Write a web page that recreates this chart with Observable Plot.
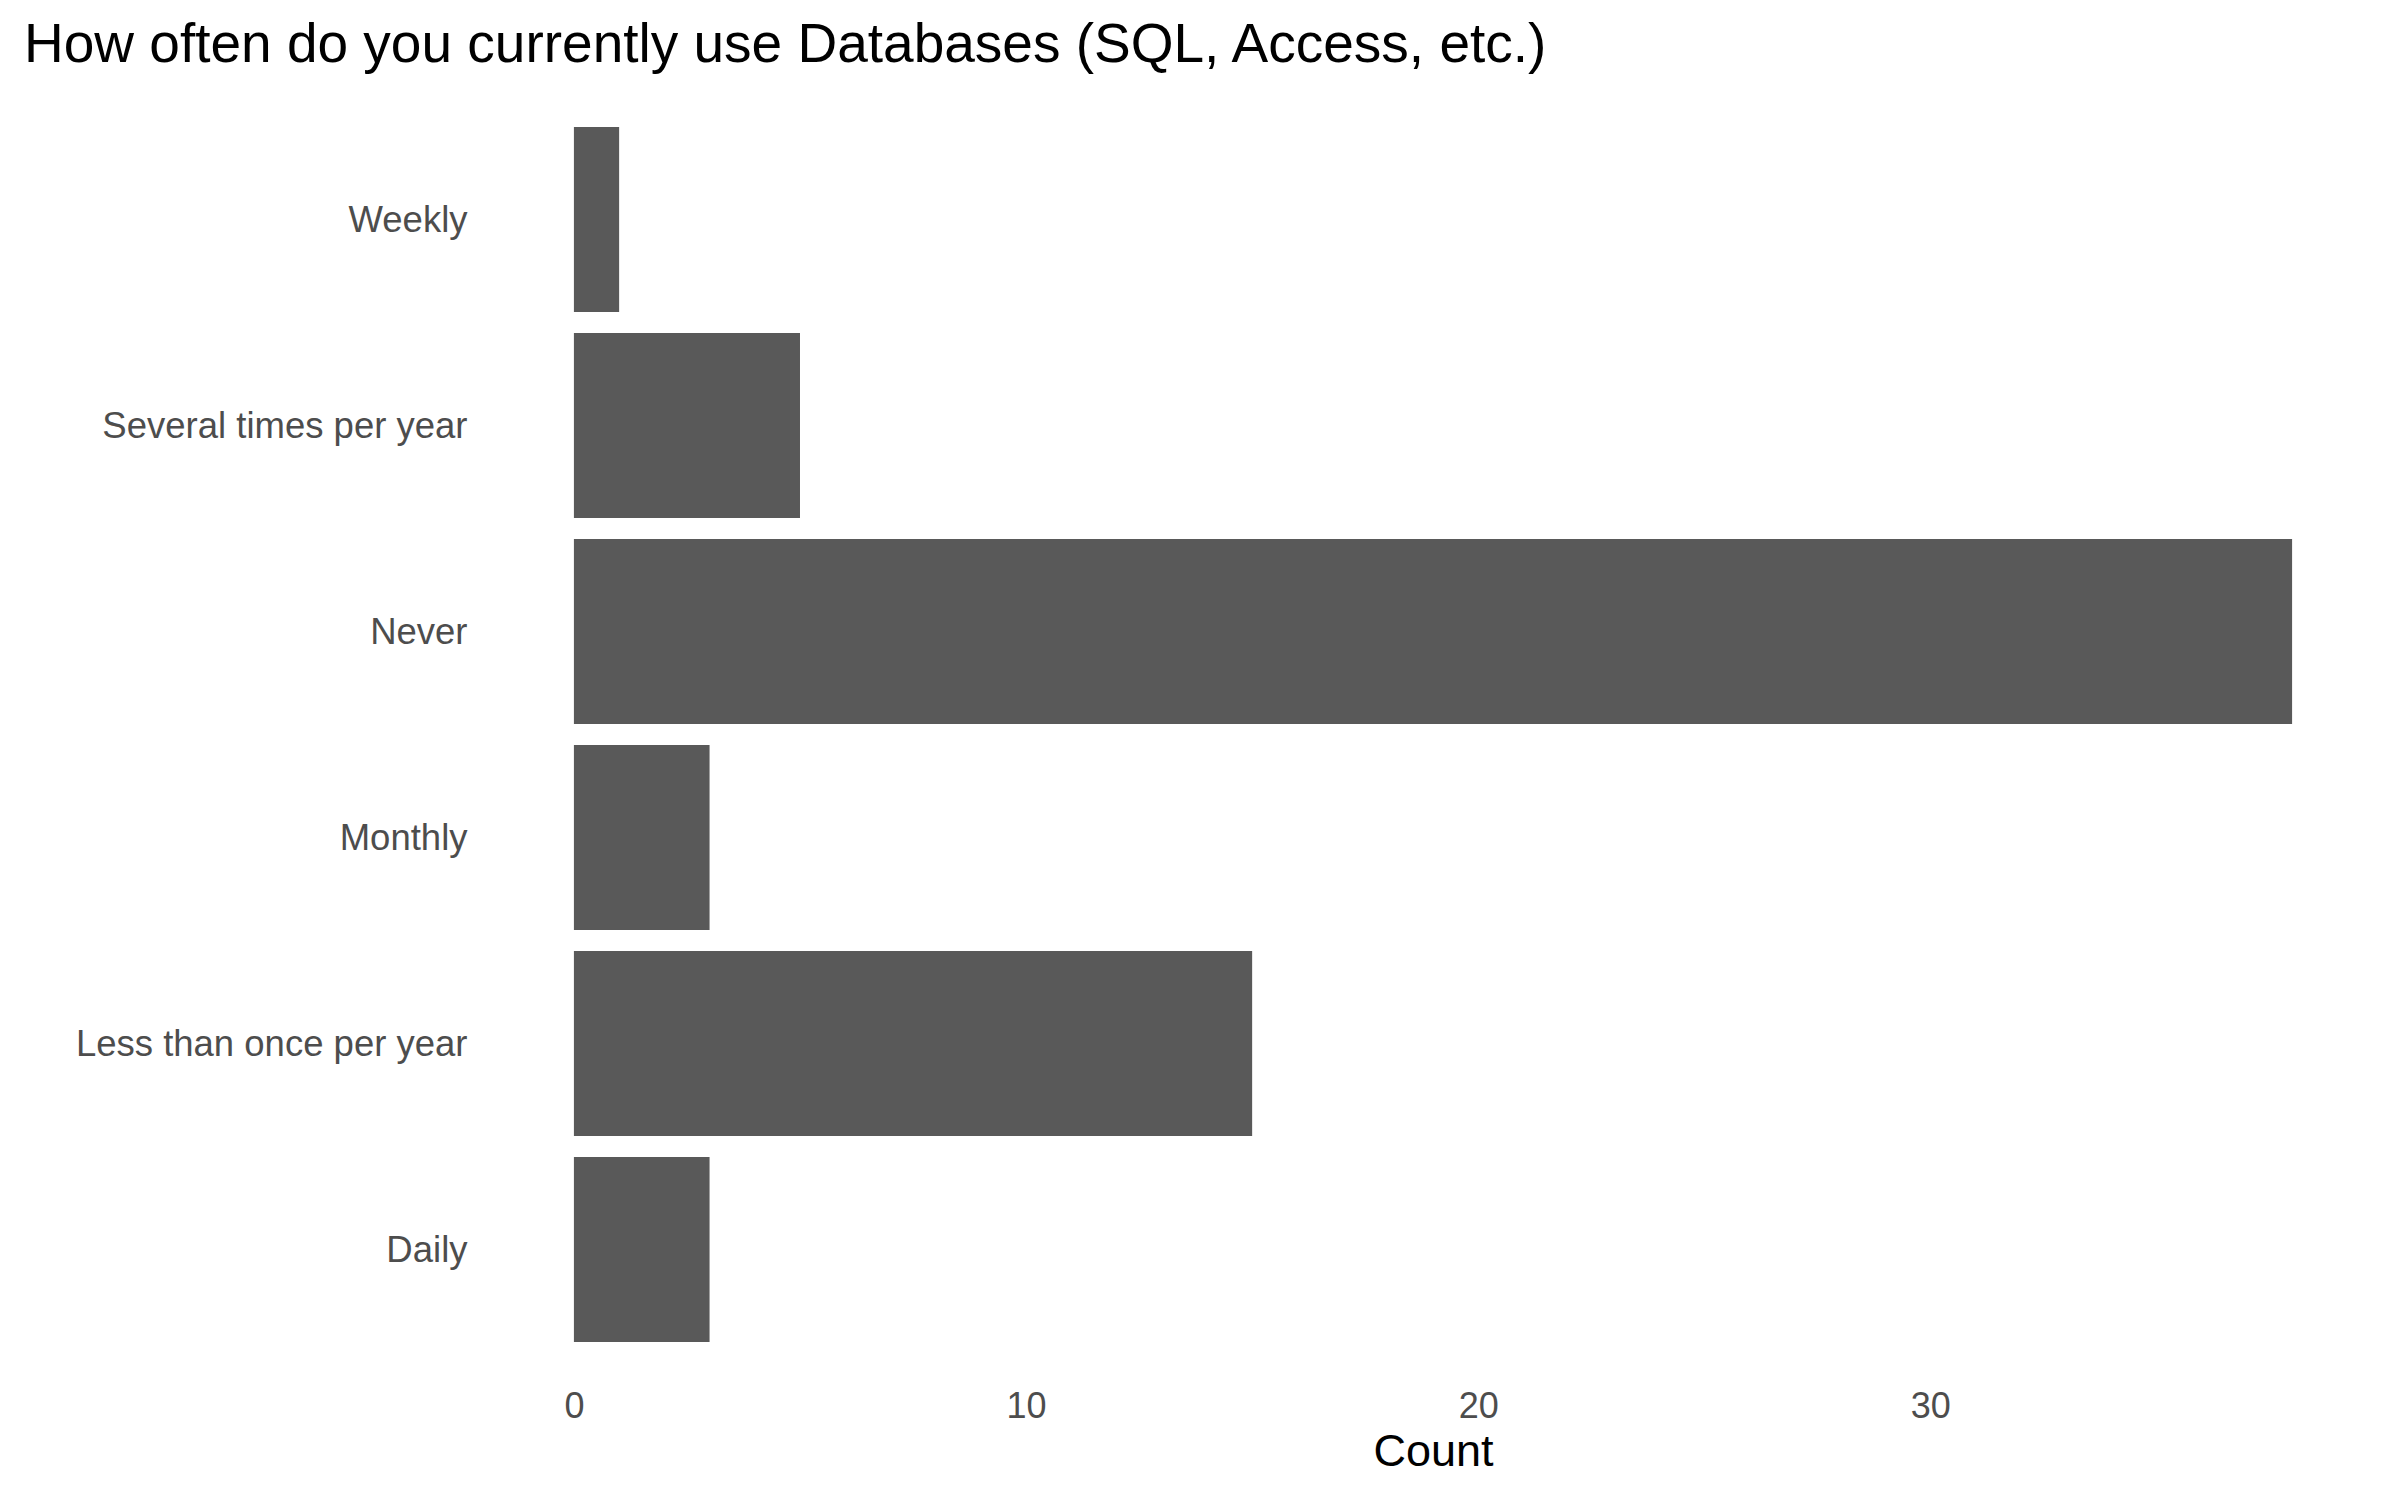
<!DOCTYPE html>
<html>
<head>
<meta charset="utf-8">
<script src="https://cdn.jsdelivr.net/npm/d3@7"></script>
<script src="https://cdn.jsdelivr.net/npm/@observablehq/plot@0.6"></script>
<style>
  body { margin: 0; background: #fff; font-family: "Liberation Sans", Arial, sans-serif; }
  #title { height: 80px; box-sizing: border-box; padding: 16px 0 0 24px; font-size: 55px; line-height: 1; color: #000; white-space: nowrap; }
</style>
</head>
<body>
<div id="title">How often do you currently use Databases (SQL, Access, etc.)</div>
<div id="chart"></div>
<script>
const categories = ["Weekly", "Several times per year", "Never", "Monthly", "Less than once per year", "Daily"];
const counts = [1, 5, 38, 3, 15, 3];
const xTicks = [0, 10, 20, 30];
const xLabel = "Count";

const data = categories.map((c, i) => ({category: c, count: counts[i]}));

const chart = Plot.plot({
  width: 2400,
  height: 1420,
  marginLeft: 488,
  marginRight: 22,
  marginTop: 26,
  marginBottom: 137,
  style: {fontFamily: "'Liberation Sans', Arial, sans-serif", background: "#fff"},
  x: {domain: [-1.9, 39.9]},
  y: {domain: categories, padding: 0.1},
  marks: [
    Plot.barX(data, {x: "count", y: "category", fill: "#595959"}),
    Plot.axisY({tickSize: 0, tickPadding: 21, fontSize: 36.5, color: "#4d4d4d", label: null}),
    Plot.axisX({ticks: xTicks, tickSize: 0, tickPadding: 29, fontSize: 36, color: "#4d4d4d", label: null}),
    Plot.axisX({ticks: [], tickSize: 0, label: xLabel, labelAnchor: "center", labelArrow: "none", labelOffset: 102, fontSize: 45, color: "#000"})
  ]
});
document.getElementById("chart").appendChild(chart);
</script>
</body>
</html>
